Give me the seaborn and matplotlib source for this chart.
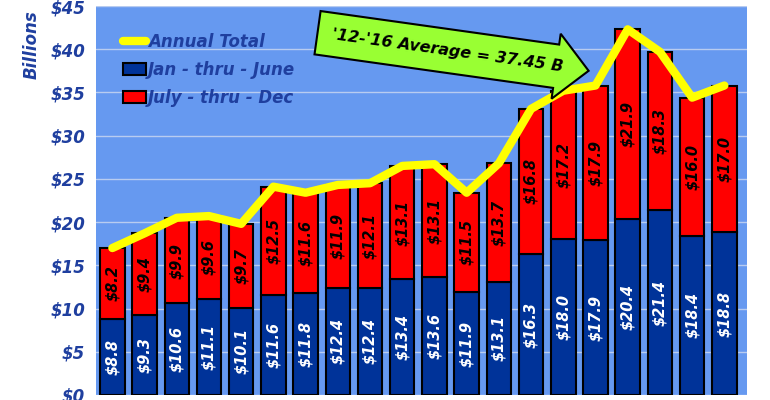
import numpy as np
import matplotlib
matplotlib.use("Agg")
import matplotlib.pyplot as plt
import seaborn as sns

# Значения по полугодиям, млрд $
jan_june = [8.8, 9.3, 10.6, 11.1, 10.1, 11.6, 11.8, 12.4, 12.4, 13.4,
            13.6, 11.9, 13.1, 16.3, 18.0, 17.9, 20.4, 21.4, 18.4, 18.8]
july_dec = [8.2, 9.4, 9.9, 9.6, 9.7, 12.5, 11.6, 11.9, 12.1, 13.1,
            13.1, 11.5, 13.7, 16.8, 17.2, 17.9, 21.9, 18.3, 16.0, 17.0]
avg_text = "'12-'16 Average = 37.45 B"

sns.set_style("white")
plt.rcParams['font.family'] = ['DejaVu Sans']

h1 = np.array(jan_june)
h2 = np.array(july_dec)
total = h1 + h2
x = np.arange(len(h1))

fig = plt.figure(figsize=(7.7, 4.0), dpi=100)
ax = fig.add_axes([0.125, 0.0125, 0.845, 0.9725])
ax.set_facecolor('#6699f0')
ax.set_axisbelow(True)
ax.grid(axis='y', color='#b8ccf0', linewidth=1)

navy = '#003399'
label_col = '#1f3f9f'
ax.bar(x, h1, width=0.76, color=navy, edgecolor='black', linewidth=1.5,
       label='Jan - thru - June')
ax.bar(x, h2, width=0.76, bottom=h1, color='#ff0000', edgecolor='black',
       linewidth=1.5, label='July - thru - Dec')
ax.plot(x, total, color='#ffff00', linewidth=6, label='Annual Total',
        solid_joinstyle='round')

for i in x:
    ax.text(i, h1[i] / 2, f'${h1[i]:.1f}', rotation=90, ha='center', va='center',
            color='white', fontsize=10.5, fontweight='bold', style='italic')
    ax.text(i, h1[i] + h2[i] / 2, f'${h2[i]:.1f}', rotation=90, ha='center',
            va='center', color='black', fontsize=10.5, fontweight='bold', style='italic')

ax.set_xlim(-0.5, 19.7)
ax.set_ylim(0, 45)
ax.set_yticks(range(0, 46, 5))
ax.set_yticklabels([f'${v}' for v in range(0, 46, 5)], color=label_col,
                   fontsize=12, fontweight='bold', style='italic')
ax.set_xticks([])
ax.set_ylabel('Billions', color=label_col, fontsize=12, fontweight='bold', style='italic')
ax.yaxis.set_label_coords(-0.085, 0.9)
ax.tick_params(axis='y', length=0, pad=8)
for s in ax.spines.values():
    s.set_visible(False)

leg = ax.legend(loc='upper left', frameon=False,
                prop={'weight': 'bold', 'style': 'italic', 'size': 12},
                handlelength=1.4, handletextpad=0.1, labelspacing=0.6,
                borderaxespad=1.2)
for t in leg.get_texts():
    t.set_color(label_col)

ax.text(10.4, 39.8, avg_text, rotation=-8, ha='center', va='center',
        fontsize=11.5, fontweight='bold', style='italic', color='black',
        bbox=dict(boxstyle='rarrow,pad=0.9', fc='#99ff33', ec='black', lw=1.5))

fig.savefig('out.png', dpi=100)
